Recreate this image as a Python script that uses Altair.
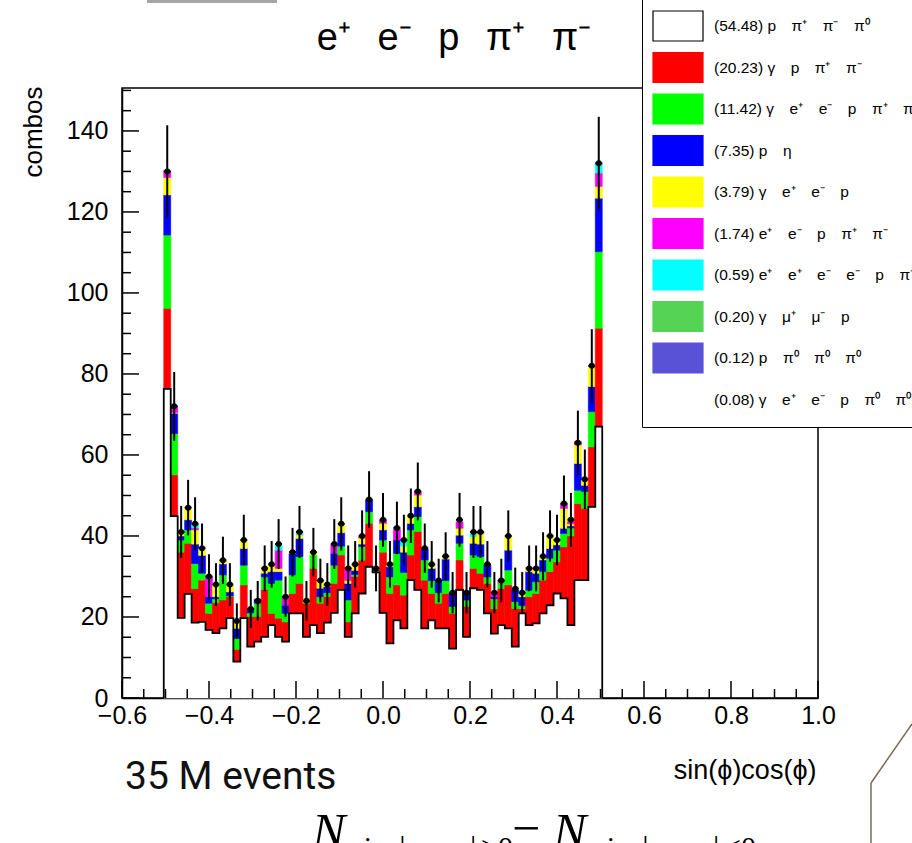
import altair as alt
import numpy as np
import pandas as pd

# ---------------------------------------------------------------------------
# Histogram binning: 0.016 wide bins centred on multiples of 0.016,
# only the 63 bins between -0.504 and 0.504 are populated.
# ---------------------------------------------------------------------------
BIN_W = 0.016
centers = [round(BIN_W * k, 3) for k in range(-31, 32)]

# Stacked MC components (counts per bin, bottom to top)
white = [76.3, 44.9, 19.8, 25.7, 18.6, 18.8, 16.8, 16.0, 17.2, 19.7,
         9.0, 19.7, 12.7, 13.9, 15.1, 18.0, 15.1, 13.9, 20.9, 20.9,
         15.1, 18.0, 16.0, 18.6, 21.0, 26.7, 15.1, 20.9, 25.8, 32.4,
         31.0, 21.0, 13.5, 19.2, 17.2, 29.1, 26.7, 17.2, 19.2, 17.2,
         17.2, 12.2, 26.7, 15.1, 27.1, 26.7, 20.9, 15.9, 18.0, 17.2,
         12.7, 20.9, 18.0, 18.4, 20.9, 22.9, 25.8, 24.6, 18.0, 29.1,
         29.1, 47.2, 67.0]
red = [19.9, 10.2, 16.2, 12.5, 8.4, 10.3, 4.1, 7.5, 7.0, 5.3,
       3.0, 8.2, 7.4, 6.2, 11.7, 2.9, 4.6, 4.9, 4.9, 7.4,
       8.3, 14.0, 7.4, 6.4, 7.3, 8.6, 3.7, 9.1, 8.2, 10.7,
       0.2, 15.0, 12.3, 8.7, 8.2, 6.2, 14.4, 11.9, 6.6, 6.2,
       8.6, 8.7, 7.4, 7.5, 4.9, 4.1, 7.4, 6.1, 9.0, 10.7,
       9.4, 1.1, 7.0, 7.4, 8.2, 8.3, 7.8, 12.7, 22.0, 18.9,
       17.7, 14.8, 24.3]
green = [18.1, 10.2, 3.0, 3.3, 6.2, 1.7, 2.5, 1.0, 6.2, 0.2,
         2.7, 4.9, 0.9, 3.3, 3.1, 7.4, 9.4, 2.1, 4.6, 6.6,
         0.6, 3.3, 1.6, 1.0, 4.5, 2.2, 5.4, 0.5, 3.4, 2.9,
         0.2, 3.0, 4.1, 7.8, 5.6, 6.2, 3.7, 5.0, 3.2, 2.6,
         3.2, 1.7, 4.1, 1.6, 3.3, 4.1, 1.6, 2.5, 1.5, 3.7,
         1.7, 0.8, 1.6, 2.9, 2.1, 3.3, 2.9, 3.3, 2.0, 3.3,
         4.2, 8.7, 18.9]
blue = [9.9, 5.0, 1.0, 2.5, 4.8, 4.4, 1.6, 0.5, 2.7, 1.0,
        2.5, 4.1, 0.9, 1.0, 0.9, 2.9, 2.1, 2.0, 5.3, 4.5,
        0.0, 0.0, 2.1, 1.5, 2.9, 3.3, 4.1, 1.0, 0.6, 2.9,
        0.2, 2.5, 2.5, 3.3, 5.0, 1.6, 2.4, 2.6, 3.0, 2.9,
        5.3, 3.2, 2.0, 1.6, 2.9, 3.1, 2.9, 0.5, 0.0, 4.9,
        2.9, 2.2, 4.6, 2.1, 2.9, 2.4, 1.3, 1.3, 0.5, 6.6,
        1.5, 6.2, 13.2]
yellow = [4.3, 0.2, 1.0, 3.0, 3.5, 1.6, 0.0, 2.9, 0.8, 1.7,
          1.4, 1.9, 0.0, 0.0, 1.0, 1.6, 0.8, 0.0, 0.4, 0.8,
          0.0, 0.8, 1.8, 0.4, 0.0, 1.9, 0.7, 1.3, 1.5, 0.0,
          0.2, 1.6, 0.4, 0.0, 1.5, 1.8, 2.9, 0.0, 0.8, 0.0,
          0.7, 0.0, 1.7, 0.0, 1.6, 2.6, 0.0, 0.0, 0.0, 3.3,
          0.0, 0.8, 0.6, 0.8, 0.8, 2.9, 0.9, 4.9, 0.5, 4.6,
          1.3, 5.1, 2.9]
magenta = [1.7, 1.4, 0, 0, 0.5, 0, 5.0, 0, 0, 0,
           0, 0, 0, 0, 0, 0, 4.5, 1.9, 0, 0,
           0, 0, 0, 0, 2.2, 0, 3.0, 0, 0.3, 0,
           0, 0.8, 0, 2.7, 0, 0, 0.8, 0, 0, 0,
           0, 0, 1.6, 0, 0, 0.5, 0, 0.8, 0.6, 0,
           0, 0, 0, 0, 0, 0, 0, 1.2, 0.5, 0.8,
           0, 0, 3.3]
cyan = [0, 0, 0, 0, 0.9, 0, 0, 0, 0, 0,
        0, 0, 0, 0, 0, 0, 1.3, 0, 0, 0.9,
        0, 0, 0, 0, 0, 0, 0, 0, 0, 0,
        0, 0, 0, 0, 1.5, 0, 0, 0, 0, 0,
        0, 0, 0, 0, 0.8, 0, 0, 0, 0, 0,
        0, 0, 0, 0, 0, 0, 0, 0, 0, 0,
        0, 0, 2.6]

# Reconstructed data (counts per bin)
data_counts = [130, 72, 41, 47, 43, 37, 30, 28, 34, 28,
               19, 39, 22, 24, 32, 33, 38, 25, 36, 41,
               24, 36, 29, 28, 38, 43, 32, 33, 40, 49,
               32, 44, 33, 42, 39, 45, 51, 37, 33, 29,
               35, 26, 44, 26, 41, 41, 33, 26, 29, 40,
               27, 26, 32, 32, 35, 40, 39, 48, 44, 63,
               54, 82, 132]

# Legend entries: label, fill colour, swatch border
SP = "\u2003"
legend_labels = [
    f"(54.48) p{SP}π⁺{SP}π⁻{SP}π⁰",
    f"(20.23) γ{SP}p{SP}π⁺{SP}π⁻",
    f"(11.42) γ{SP}e⁺{SP}e⁻{SP}p{SP}π⁺{SP}π⁻",
    f"(7.35) p{SP}η",
    f"(3.79) γ{SP}e⁺{SP}e⁻{SP}p",
    f"(1.74) e⁺{SP}e⁻{SP}p{SP}π⁺{SP}π⁻",
    f"(0.59) e⁺{SP}e⁺{SP}e⁻{SP}e⁻{SP}p{SP}π⁺{SP}π⁻",
    f"(0.20) γ{SP}μ⁺{SP}μ⁻{SP}p",
    f"(0.12) p{SP}π⁰{SP}π⁰{SP}π⁰",
    f"(0.08) γ{SP}e⁺{SP}e⁻{SP}p{SP}π⁰{SP}π⁰",
]
legend_fills = ["#ffffff", "#ff0000", "#00ff00", "#0000ff", "#ffff00",
                "#ff00ff", "#00ffff", "#55d355", "#5a52d6", "transparent"]
legend_strokes = ["#000000", "#ff0000", "#00ff00", "#0000ff", "#ffff00",
                  "#ff00ff", "#00ffff", "#55d355", "#5a52d6", "transparent"]

stack_series = [white, red, green, blue, yellow, magenta, cyan]

# Axis ticks
x_major = [-0.6, -0.4, -0.2, 0.0, 0.2, 0.4, 0.6, 0.8, 1.0]
x_minor = [v for v in np.round(np.arange(-0.6, 1.0001, 0.05), 2).tolist()
           if not any(abs(v - m) < 1e-6 for m in x_major)]
y_major = [0, 20, 40, 60, 80, 100, 120, 140]
y_minor = [v for v in range(0, 151, 5) if v not in y_major]

PLOT_W, PLOT_H = 696, 610
FONT = "Liberation Sans"

# ---------------------------------------------------------------------------
# Build tables
# ---------------------------------------------------------------------------
rows = []
for i, c in enumerate(centers):
    base = 0.0
    for k, series in enumerate(stack_series):
        v = series[i]
        if v > 0:
            rows.append({"x0": c - BIN_W / 2, "x1": c + BIN_W / 2,
                         "y0": base, "y1": base + v,
                         "comp": legend_labels[k]})
        base += v
stack_df = pd.DataFrame(rows)

edges = [round(c - BIN_W / 2, 3) for c in centers]
outline_df = pd.DataFrame({
    "x": [edges[0]] + edges + [round(centers[-1] + BIN_W / 2, 3)] * 2,
    "y": [0.0] + white + [white[-1], 0.0],
})
outline_df["seq"] = range(len(outline_df))

counts = np.array(data_counts, dtype=float)
pts_df = pd.DataFrame({
    "x": centers,
    "x0": [c - BIN_W / 2 for c in centers],
    "x1": [c + BIN_W / 2 for c in centers],
    "n": counts,
    "lo": counts - np.sqrt(counts),
    "hi": counts + np.sqrt(counts),
})

x_scale = alt.Scale(domain=[-0.6, 1.0], nice=False, zero=False)
y_scale = alt.Scale(domain=[0, 150.6], nice=False, zero=True)

# The same axis definitions are handed to every layer so they merge cleanly
x_axis = alt.Axis(
    values=x_major, format=".1f", labelFlush=False, labelOverlap=False,
    ticks=False, tickSize=0, grid=False, domainColor="black", domainWidth=1.5,
    labelFont=FONT, labelFontSize=25, labelColor="black", labelPadding=5,
    title="sin(ϕ)cos(ϕ)", titleFont=FONT, titleFontSize=27,
    titleFontWeight="normal", titleColor="black",
    titleX=694, titleY=72, titleAlign="right", titleBaseline="middle",
)
y_axis = alt.Axis(
    values=y_major, format="d", labelFlush=False, labelOverlap=False,
    ticks=False, tickSize=0, grid=False, domainColor="black", domainWidth=1.5,
    labelFont=FONT, labelFontSize=25, labelColor="black", labelPadding=14,
    title="combos", titleFont=FONT, titleFontSize=26,
    titleFontWeight="normal", titleColor="black", titleAngle=270,
    titleX=-89, titleY=-2, titleAlign="right", titleBaseline="middle",
)

def X(field):
    return alt.X(field, scale=x_scale, axis=x_axis)

def Y(field):
    return alt.Y(field, scale=y_scale, axis=y_axis)

bars = alt.Chart(stack_df).mark_bar(strokeWidth=0.6).encode(
    x=X("x0:Q"), x2="x1:Q",
    y=Y("y0:Q"), y2="y1:Q",
    fill=alt.Fill("comp:N", scale=alt.Scale(domain=legend_labels, range=legend_fills),
                  legend=None),
    stroke=alt.Stroke("comp:N", scale=alt.Scale(domain=legend_labels, range=legend_fills),
                      legend=None),
)

outline = alt.Chart(outline_df).mark_line(
    interpolate="step-after", color="black", strokeWidth=1.8
).encode(x=X("x:Q"), y=Y("y:Q"), order="seq:Q")

err_v = alt.Chart(pts_df).mark_rule(color="black", strokeWidth=2).encode(
    x=X("x:Q"), y=Y("lo:Q"), y2="hi:Q")
err_h = alt.Chart(pts_df).mark_rule(color="black", strokeWidth=2).encode(
    x=X("x0:Q"), x2="x1:Q", y=Y("n:Q"))
dots = alt.Chart(pts_df).mark_circle(color="black", size=36, opacity=1).encode(
    x=X("x:Q"), y=Y("n:Q"))

# Inward-pointing ticks on the bottom and left axes
def x_ticks(vals, length):
    return alt.Chart(pd.DataFrame({"v": vals})).mark_rule(
        color="black", strokeWidth=1.5
    ).encode(x=X("v:Q"), y=alt.value(PLOT_H), y2=alt.value(PLOT_H - length))

def y_ticks(vals, length):
    return alt.Chart(pd.DataFrame({"v": vals})).mark_rule(
        color="black", strokeWidth=1.5
    ).encode(y=Y("v:Q"), x=alt.value(0), x2=alt.value(length))

ticks = [x_ticks(x_major, 17), x_ticks(x_minor, 9),
         y_ticks(y_major, 17), y_ticks(y_minor, 9)]

# Legend box (top right): 50x30 swatches drawn from a 2.5 x 1.5 unit path
legend_spec = alt.Legend(
    title=None, orient="none", legendX=520, legendY=-93,
    symbolType="M-1.25,-0.75H1.25V0.75H-1.25Z", symbolSize=1600,
    symbolStrokeWidth=1.2, symbolOpacity=1, symbolOffset=5,
    labelFont=FONT, labelFontSize=15.5, labelColor="black", labelLimit=600,
    labelOffset=15, rowPadding=2.5, padding=10,
    fillColor="white", strokeColor="black",
)
legend_df = pd.DataFrame({"comp": legend_labels})
legend_layer = alt.Chart(legend_df).mark_point(filled=True, opacity=0).encode(
    x=alt.value(-500), y=alt.value(-500),
    fill=alt.Fill("comp:N", scale=alt.Scale(domain=legend_labels, range=legend_fills),
                  legend=legend_spec),
    stroke=alt.Stroke("comp:N", scale=alt.Scale(domain=legend_labels, range=legend_strokes),
                      legend=legend_spec),
)

one = pd.DataFrame({"k": [0]})

def label(text, x, y, size, font=FONT, style="normal", align="left", color="black"):
    return alt.Chart(one).mark_text(
        text=text, font=font, fontSize=size, fontStyle=style, align=align,
        baseline="alphabetic", color=color,
    ).encode(x=alt.value(x), y=alt.value(y))

GAP = "\u2002\u2009"
title = label(f"e⁺{GAP}e⁻{GAP}p{GAP}π⁺{GAP}π⁻", 332, -38, 38, align="center")
events = label("35 M events", 3, 701, 39, font="Roboto", color="#111111")
SERIF = "Liberation Serif"
formula = [
    label("N", 190, 760, 50, font=SERIF, style="italic"),
    label("sin ϕ cos ϕ>0", 230, 769, 30, font=SERIF),
    label("−", 390, 757, 50, font=SERIF),
    label("N", 431, 760, 50, font=SERIF, style="italic"),
    label("sin ϕ cos ϕ<0", 473, 769, 30, font=SERIF),
]

# Slide decorations: thin grey bar at the top, brown connector at bottom right
top_bar = alt.Chart(one).mark_rect(color="#a6a6a6").encode(
    x=alt.value(25), x2=alt.value(155), y=alt.value(-88), y2=alt.value(-85))
conn_a = alt.Chart(one).mark_rule(color="#7a6a55", strokeWidth=1.5).encode(
    x=alt.value(790), y=alt.value(636), x2=alt.value(749), y2=alt.value(695))
conn_b = alt.Chart(one).mark_rule(color="#7a6a55", strokeWidth=1.5).encode(
    x=alt.value(749), y=alt.value(695), x2=alt.value(749), y2=alt.value(760))

chart = alt.layer(
    bars, outline, err_v, err_h, dots, *ticks, legend_layer,
    title, events, *formula, top_bar, conn_a, conn_b,
).resolve_scale(
    fill="independent", stroke="independent"
).properties(
    width=PLOT_W, height=PLOT_H,
    padding={"left": 122, "top": 88, "right": 94, "bottom": 145},
    autosize=alt.AutoSizeParams(type="none"),
    background="white",
).configure_view(
    stroke="black", strokeWidth=1.5
)

chart.save("out.html", embed_options={"renderer": "svg", "actions": False})
